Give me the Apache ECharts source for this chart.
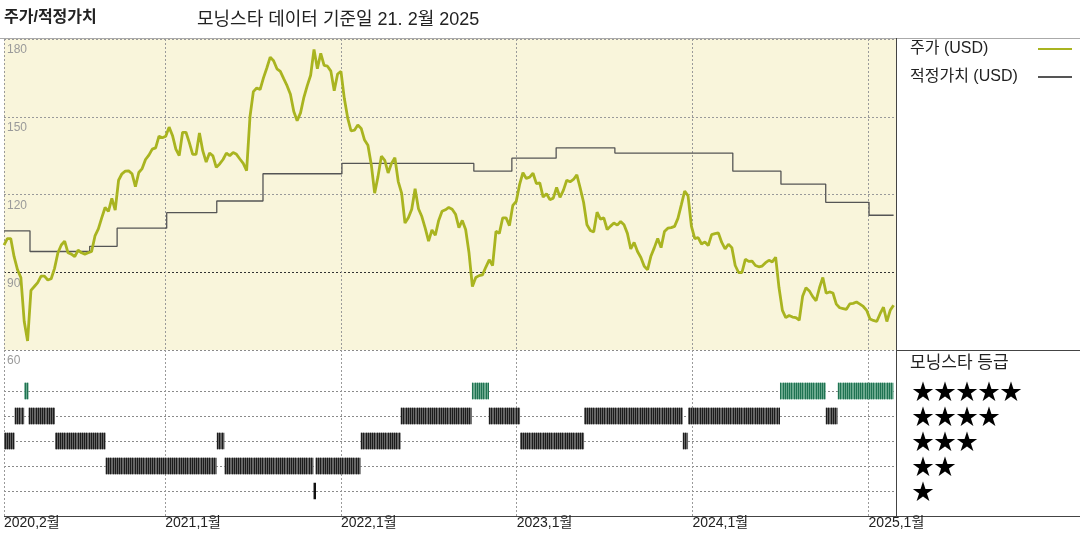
<!DOCTYPE html>
<html><head><meta charset="utf-8">
<script src="https://cdn.jsdelivr.net/npm/echarts@6/dist/echarts.min.js"></script>
<style>html,body{margin:0;padding:0;background:#fff}#c{width:1080px;height:540px}</style>
</head><body><div id="c"></div>
<script>
// ---- data ----
const priceStart = '2020-02-01'; // weekly closes from this date
const priceWeekly = [
 100.5,103,103,96,91,88,71,63.5,83,84.5,
 86,88.5,88.5,87,87.5,91.5,97.5,100.5,102,97.5,
 97,96,98.5,97.5,97,97.5,98,104,106.7,111,
 115,113.5,118.5,114,125.5,128,129,129.1,128,123,
 128.5,130,133.5,135.2,137.5,138,142.5,141.9,142.5,146,
 142.8,137.5,135,144,144,140,135.5,135.5,143.7,136.8,
 132.5,136,134.9,130.5,131.8,133.5,136,135,136.2,135.5,
 133.7,132,129.2,150,159.7,161.1,160.5,165,168.8,173,
 171.6,168.5,167.5,164.7,162,158.7,152,148.5,
 151.5,157.5,162,166,176,168.5,174.5,169.8,169.5,167.6,
 160,166.5,167.5,157,149.5,144.5,144.8,146.8,145.5,141,
 139,131.5,120.5,127,134.8,133.2,128.3,132,134.2,125,
 120.5,109,111,114.3,122.2,114.5,111.5,107,102,106.3,
 104.3,110,113.5,114.1,115,114.3,112.4,107.2,110,106.5,
 97.5,84.5,88,88.7,89,92,94.8,92.6,105.8,105,
 111,111,108,115.8,117.3,123.8,128.4,126.2,126.7,128.2,
 124.2,124.5,119,120.3,118,118.6,122.7,118.9,121.6,125.5,
 124.9,125.8,127.6,122.5,117,108.3,106.1,105.5,113.2,
 110.5,111,106.5,107.8,109,108.2,109.6,108.3,105,99,
 101.5,98,95.7,92.3,91,96.3,99.5,103,99.5,105.7,
 107,107.2,107.7,110.8,116,121.3,119.5,107.8,103,103.4,
 100.9,101.7,100.3,104.5,104.9,105.2,101.5,99,100.8,99.5,
 92.6,89.9,89.9,95,94.2,94.3,92.6,92.1,92.4,93.7,
 94.6,94,95.8,84,75.3,72.5,73.3,72.7,72.5,71.5,
 80.7,84,82.8,80.6,79,84,88,81.9,82.4,82,
 77.7,76.3,76,75.7,77.8,78,78.5,77.7,76.8,75.3,
 72,71.4,71,74,76.5,71,75.3,77.3
];
const fairValueDates = ['2020-02-01','2020-03-26','2020-07-28','2020-09-23','2021-01-04','2021-04-18','2021-07-23','2022-01-03','2022-10-04','2022-12-22','2023-03-24','2023-07-24','2024-03-25','2024-07-03','2024-10-04','2025-01-02','2025-02-22'];
const fairValues     = [106,98,100,107,113,117.5,128,132,129,134,138,136,129,124,117,112,112];
const ratingStart = ['2020-02-01','2020-02-23','2020-03-14','2020-03-23','2020-05-17','2020-08-30','2021-04-18','2021-05-04','2021-11-05','2021-11-09','2022-02-11','2022-05-05','2022-09-30','2022-11-04','2023-01-08','2023-05-21','2023-12-12','2023-12-23','2024-07-01','2024-10-04','2024-10-29'];
const ratingEnd   = ['2020-02-23','2020-03-14','2020-03-23','2020-05-17','2020-08-30','2021-04-18','2021-05-04','2021-11-05','2021-11-09','2022-02-11','2022-05-05','2022-09-30','2022-11-04','2023-01-08','2023-05-21','2023-12-12','2023-12-23','2024-07-01','2024-10-04','2024-10-29','2025-02-22'];
const ratingStars = [3,4,5,4,3,2,3,2,1,2,3,4,5,4,3,4,3,4,5,4,5];
const yearTicks = ['2020-02-01','2021-01-01','2022-01-01','2023-01-01','2024-01-01','2025-01-01'];
const axisStart = '2020-02-01', axisEnd = '2025-02-27';
const starLevels = [1,2,3,4,5];

// ---- build ----
const ts = s => { const [y,m,d] = s.split('-').map(Number); return new Date(y, m-1, d).getTime(); };
const priceData = priceWeekly.map((v,i) => { const [y,m,d] = priceStart.split('-').map(Number); return [new Date(y, m-1, d + 7*i).getTime(), v]; });
const fvData = fairValueDates.map((d,i) => [ts(d), fairValues[i]]);
const ratingData = ratingStart.map((s,i) => [ts(s), ts(ratingEnd[i]), ratingStars[i]]);
const tickTs = yearTicks.map(ts);
const FONT = "'Liberation Sans','Noto Sans CJK KR',sans-serif";
const gridLine = {show:true, lineStyle:{color:'#9a9a9a', type:[2,2], width:1}};

function renderRating(params, api) {
  const stars = api.value(2);
  const s = api.coord([api.value(0), stars]);
  const e = api.coord([api.value(1), stars]);
  const h = api.size([0, 1])[1] * 0.66;
  const w = Math.max(e[0] - s[0], 2.5);
  const base = stars === 5 ? '#6aa88d' : '#666666';
  const dark = stars === 5 ? '#1f7352' : '#1c1c1c';
  const y0 = s[1] - h / 2;
  const children = [{type:'rect', shape:{x:s[0], y:y0, width:w, height:h}, style:{fill: stars === 1 ? '#111' : base}}];
  if (stars !== 1) {
    for (let x = s[0] + 0.5; x < s[0] + w - 0.8; x += 2.2) {
      children.push({type:'rect', shape:{x:Math.round(x), y:y0, width:1, height:h}, style:{fill:dark}});
    }
  }
  return {type:'group', children};
}

const chart = echarts.init(document.getElementById('c'), null, {renderer:'canvas'});
chart.setOption({
  animation:false,
  backgroundColor:'#fff',
  textStyle:{fontFamily:FONT},
  title:[
    {text:'주가/적정가치', left:4, top:10, padding:0, textStyle:{fontSize:16, fontWeight:'bold', color:'#222', fontFamily:FONT}},
    {text:'모닝스타 데이터 기준일 21. 2월 2025', left:197, top:11, padding:0, textStyle:{fontSize:18, fontWeight:'normal', color:'#222', fontFamily:FONT}},
    {text:'모닝스타 등급', left:910, top:355, padding:0, textStyle:{fontSize:17, fontWeight:'normal', color:'#222', fontFamily:FONT}}
  ],
  legend:{orient:'vertical', left:910, top:41, padding:0, align:'right', itemWidth:34, itemHeight:14, itemGap:12,
    itemStyle:{opacity:0},
    formatter:'{a|{name}}',
    textStyle:{fontSize:16, color:'#222', fontFamily:FONT,
      rich:{a:{width:123, align:'left', fontSize:16, color:'#222', fontFamily:FONT}}},
    data:['주가 (USD)','적정가치 (USD)']},
  grid:[
    {left:4, right:184, top:39, bottom:190, show:true, backgroundColor:'#F9F5DB', borderWidth:0},
    {left:4, right:184, top:350, bottom:24, show:false}
  ],
  xAxis:[
    {type:'value', gridIndex:0, min:ts(axisStart), max:ts(axisEnd), axisLine:{show:false},
     axisTick:{show:false, customValues:tickTs}, axisLabel:{show:false, customValues:tickTs}, splitLine:gridLine},
    {type:'value', gridIndex:1, min:ts(axisStart), max:ts(axisEnd), axisLine:{show:false},
     axisTick:{show:false, customValues:tickTs},
     axisLabel:{show:true, customValues:tickTs, align:'left', margin:0, fontSize:14, color:'#222', fontFamily:FONT,
       formatter: v => { const d = new Date(v); return d.getFullYear() + ',' + (d.getMonth()+1) + '월'; }},
     splitLine:gridLine}
  ],
  yAxis:[
    {type:'value', gridIndex:0, min:60, max:180, interval:30, axisLine:{show:false}, axisTick:{show:false},
     axisLabel:{inside:true, align:'left', verticalAlign:'top', margin:3, padding:[5,0,0,0], color:'#9a9a9a', fontSize:12, fontFamily:FONT},
     splitLine:{show:true, lineStyle:{color:['#8a8a8a','#333333','#9a9a9a','#9a9a9a','#9a9a9a'], type:[2,2], width:1}}},
    {type:'value', gridIndex:1, position:'right', min:0, max:6.64, interval:1, axisLine:{show:false}, axisTick:{show:false},
     axisLabel:{margin:16, fontSize:22, color:'#000', fontFamily:"'Noto Sans CJK KR','DejaVu Sans'",
       formatter: v => starLevels.includes(v) ? '★'.repeat(v) : ''},
     splitLine:{show:true, lineStyle:{color:['rgba(0,0,0,0)','#8a8a8a','#8a8a8a','#8a8a8a','#8a8a8a','#8a8a8a','rgba(0,0,0,0)','rgba(0,0,0,0)'], type:[2,2], width:1}}}
  ],
  graphic:[
    {type:'line', silent:true, shape:{x1:0, y1:38.5, x2:1080, y2:38.5}, style:{stroke:'#aaaaaa', lineWidth:1}},
    {type:'line', silent:true, shape:{x1:896.5, y1:38, x2:896.5, y2:516}, style:{stroke:'#444', lineWidth:1}},
    {type:'line', silent:true, shape:{x1:896, y1:350.5, x2:1080, y2:350.5}, style:{stroke:'#444', lineWidth:1}},
    {type:'line', silent:true, shape:{x1:4, y1:516.5, x2:1080, y2:516.5}, style:{stroke:'#444', lineWidth:1}}
  ],
  series:[
    {name:'주가 (USD)', type:'line', xAxisIndex:0, yAxisIndex:0, data:priceData, symbol:'none', z:4,
     lineStyle:{color:'#A9B420', width:2.8}, itemStyle:{color:'#A9B420'}},
    {name:'적정가치 (USD)', type:'line', xAxisIndex:0, yAxisIndex:0, data:fvData, step:'end', symbol:'none', z:3,
     lineStyle:{color:'#555555', width:1.3}, itemStyle:{color:'#555555'}},
    {name:'rating', type:'custom', xAxisIndex:1, yAxisIndex:1, data:ratingData, renderItem:renderRating, clip:true,
     encode:{x:[0,1], y:2}}
  ]
});
</script></body></html>
